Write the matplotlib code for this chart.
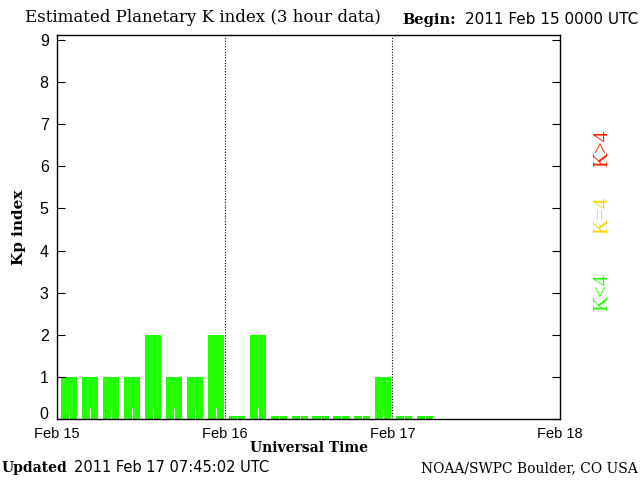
import numpy as np
import matplotlib
matplotlib.use("Agg")
import matplotlib.pyplot as plt
from matplotlib.transforms import ScaledTranslation

# 3-hour Kp values starting 2011 Feb 15 00 UTC
kp = [1, 1, 1, 1, 2, 1, 1, 2,
      0, 2, 0, 0, 0, 0, 0, 1,
      0, 0]
day_labels = ["Feb 15", "Feb 16", "Feb 17", "Feb 18"]
yticks = list(range(10))

green = "#22ff00"
serif = "DejaVu Serif"
sans = "DejaVu Sans"
tick_font = "Liberation Sans"

fig = plt.figure(figsize=(6.4, 4.8), dpi=100)
ax = fig.add_axes([57 / 640, 61 / 480, 503 / 640, 384 / 480])

hours = np.arange(len(kp)) * 3.0
heights = [v if v > 0 else 0.07 for v in kp]
ax.bar(hours + 0.57, heights, width=2.3, align="edge", color=green, linewidth=0)

ax.set_xlim(0, 72)
ax.set_ylim(0, 9.12)
for d in (24, 48):
    ax.axvline(d, color="black", linestyle=(0, (1, 1.5)), linewidth=0.8)

ax.set_xticks([0, 24, 48, 72])
ax.set_xticklabels(day_labels, fontfamily=tick_font, fontsize=10.5)
ax.set_xticks(hours + 1.72, minor=True)
ax.tick_params(axis="x", which="major", length=0, pad=6)
ax.tick_params(axis="x", which="minor", direction="in", length=8, color="white", width=0.8)
ax.set_yticks(yticks)
ax.set_yticklabels([str(v) for v in yticks], fontfamily=tick_font, fontsize=11.5)
ax.tick_params(axis="y", direction="in", length=6, right=True, pad=6)
# the "0" label sits a little above the axis bottom
zero = ax.get_yticklabels()[0]
zero.set_transform(zero.get_transform() + ScaledTranslation(0, 6 / 100, fig.dpi_scale_trans))
for s in ax.spines.values():
    s.set_linewidth(1)

ax.set_xlabel("Universal Time", fontfamily=serif, fontweight="bold", fontsize=10, labelpad=0)
ax.set_ylabel("Kp index", fontfamily=serif, fontweight="bold", fontsize=11, labelpad=10)

fig.text(25 / 640, 1 - 18 / 480, "Estimated Planetary K index (3 hour data)",
         fontfamily=serif, fontsize=12, va="center", ha="left")
fig.text(402 / 640, 1 - 20 / 480, "Begin:", fontfamily=serif, fontweight="bold",
         fontsize=10.5, va="center", ha="left")
fig.text(638 / 640, 1 - 20 / 480, "2011 Feb 15 0000 UTC", fontfamily=sans,
         fontsize=11, va="center", ha="right")

fig.text(2 / 640, 1 - 468 / 480, "Updated", fontfamily=serif, fontweight="bold",
         fontsize=10, va="center", ha="left")
fig.text(74 / 640, 1 - 468 / 480, "2011 Feb 17 07:45:02 UTC", fontfamily=sans,
         fontsize=10.5, va="center", ha="left")
fig.text(638 / 640, 1 - 468 / 480, "NOAA/SWPC Boulder, CO USA", fontfamily=serif,
         fontsize=10, va="center", ha="right")

for label, color, y in [("K>4", "#ff2200", 148), ("K=4", "#ffd400", 215), ("K<4", green, 292)]:
    fig.text(603 / 640, 1 - y / 480, label, color=color, fontfamily="Liberation Serif",
             fontsize=15, rotation=90, va="center", ha="center")

fig.savefig("out.png", dpi=100, facecolor="white")
